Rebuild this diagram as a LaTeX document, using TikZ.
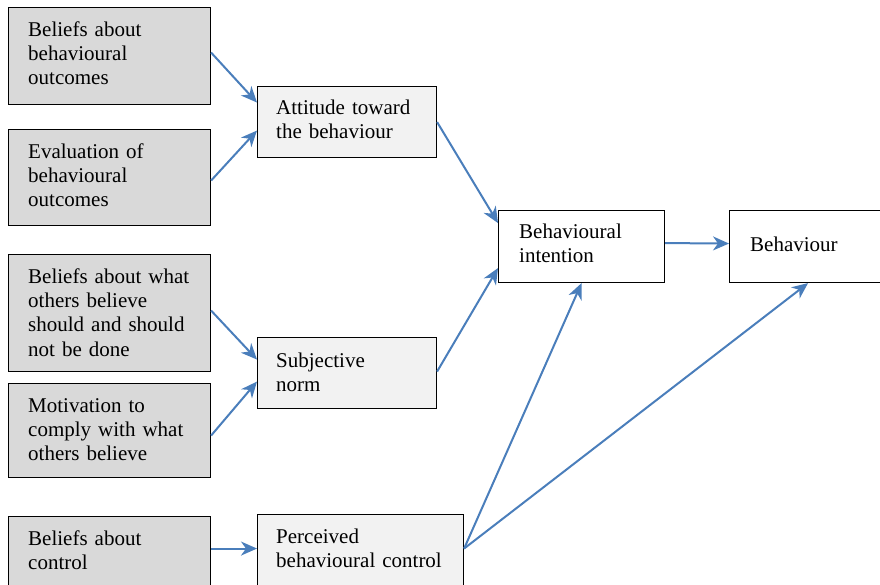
\documentclass[tikz,border=0pt]{standalone}
\usepackage{fontspec}
\setmainfont{Liberation Serif}
\usetikzlibrary{arrows.meta}
\definecolor{inputgray}{HTML}{D9D9D9}
\definecolor{midgray}{HTML}{F2F2F2}
\definecolor{linkblue}{HTML}{4A7EBB}
\begin{document}
\begin{tikzpicture}[x=1pt,y=-1pt,
  box/.style={draw=black, line width=1.1pt, rectangle, inner sep=0pt, anchor=north west},
  inbox/.style={box, fill=inputgray, minimum width=202pt},
  midbox/.style={box, fill=midgray},
  outbox/.style={box, fill=white},
  txt/.style={font=\fontsize{21}{24.4}\selectfont, inner sep=0pt, anchor=base west,
              text width=220pt, align=left},
  arr/.style={draw=linkblue, line width=2pt,
              -{Stealth[length=16pt, width=14pt, inset=5pt]}}
]
\useasboundingbox (0,0) rectangle (880,584);

% input (belief) boxes on the left
\node[inbox, minimum height=97pt]  (b1) at (8,7)   {};
\node[inbox, minimum height=96pt]  (b2) at (8,129) {};
\node[inbox, minimum height=117pt] (b3) at (8,254) {};
\node[inbox, minimum height=94pt]  (b4) at (8,383) {};
\node[inbox, minimum height=84pt]  (b5) at (8,516) {};

% middle constructs
\node[midbox, minimum width=179pt, minimum height=71pt] (att)  at (257,86)  {};
\node[midbox, minimum width=179pt, minimum height=71pt] (norm) at (257,337) {};
\node[midbox, minimum width=206pt, minimum height=86pt] (pbc)  at (257,514) {};

% intention and behaviour
\node[outbox, minimum width=166pt, minimum height=72pt] (int) at (498,210) {};
\node[outbox, minimum width=157pt, minimum height=72pt] (beh) at (729,210) {};

% texts
\node[txt] (tb1) at ([xshift=20pt,yshift=-29pt]b1.north west) {Beliefs about\\behavioural\\outcomes};
\node[txt] (tb2) at ([xshift=20pt,yshift=-29pt]b2.north west) {Evaluation of\\behavioural\\outcomes};
\node[txt] (tb3) at ([xshift=20pt,yshift=-29pt]b3.north west) {Beliefs about what\\others believe\\should and should\\not be done};
\node[txt] (tb4) at ([xshift=20pt,yshift=-29pt]b4.north west) {Motivation to\\comply with what\\others believe};
\node[txt] (tb5) at ([xshift=20pt,yshift=-29pt]b5.north west) {Beliefs about\\control};
\node[txt] (tatt)  at ([xshift=19pt,yshift=-28pt]att.north west)  {Attitude toward\\the behaviour};
\node[txt] (tnorm) at ([xshift=19pt,yshift=-30pt]norm.north west) {Subjective\\norm};
\node[txt] (tpbc)  at ([xshift=19pt,yshift=-29pt]pbc.north west)  {Perceived\\behavioural control};
\node[txt] (tint)  at ([xshift=21pt,yshift=-28pt]int.north west)  {Behavioural\\intention};
\node[txt] (tbeh)  at ([xshift=21pt,yshift=-41pt]beh.north west)  {Behaviour};

% connectors
\draw[arr] ([yshift=3.5pt]b1.east)  -- ([yshift=19.5pt]att.west);
\draw[arr] ([yshift=-3pt]b2.east)   -- ([yshift=-8.5pt]att.west);
\draw[arr] ([yshift=2.5pt]b3.east)  -- ([yshift=13.5pt]norm.west);
\draw[arr] ([yshift=-5pt]b4.east)   -- ([yshift=-8.5pt]norm.west);
\draw[arr] ([yshift=10pt]b5.east)   -- ([yshift=9pt]pbc.west);
\draw[arr] (att.east)               -- ([yshift=23.5pt]int.west);
\draw[arr] ([yshift=1.5pt]norm.east) -- ([yshift=-21.5pt]int.west);
\draw[arr] ([yshift=9pt]pbc.east)   -- (int.south);
\draw[arr] ([yshift=9pt]pbc.east)   -- (beh.south);
\draw[arr] ([yshift=3.5pt]int.east) -- ([yshift=3pt]beh.west);
\end{tikzpicture}
\end{document}
